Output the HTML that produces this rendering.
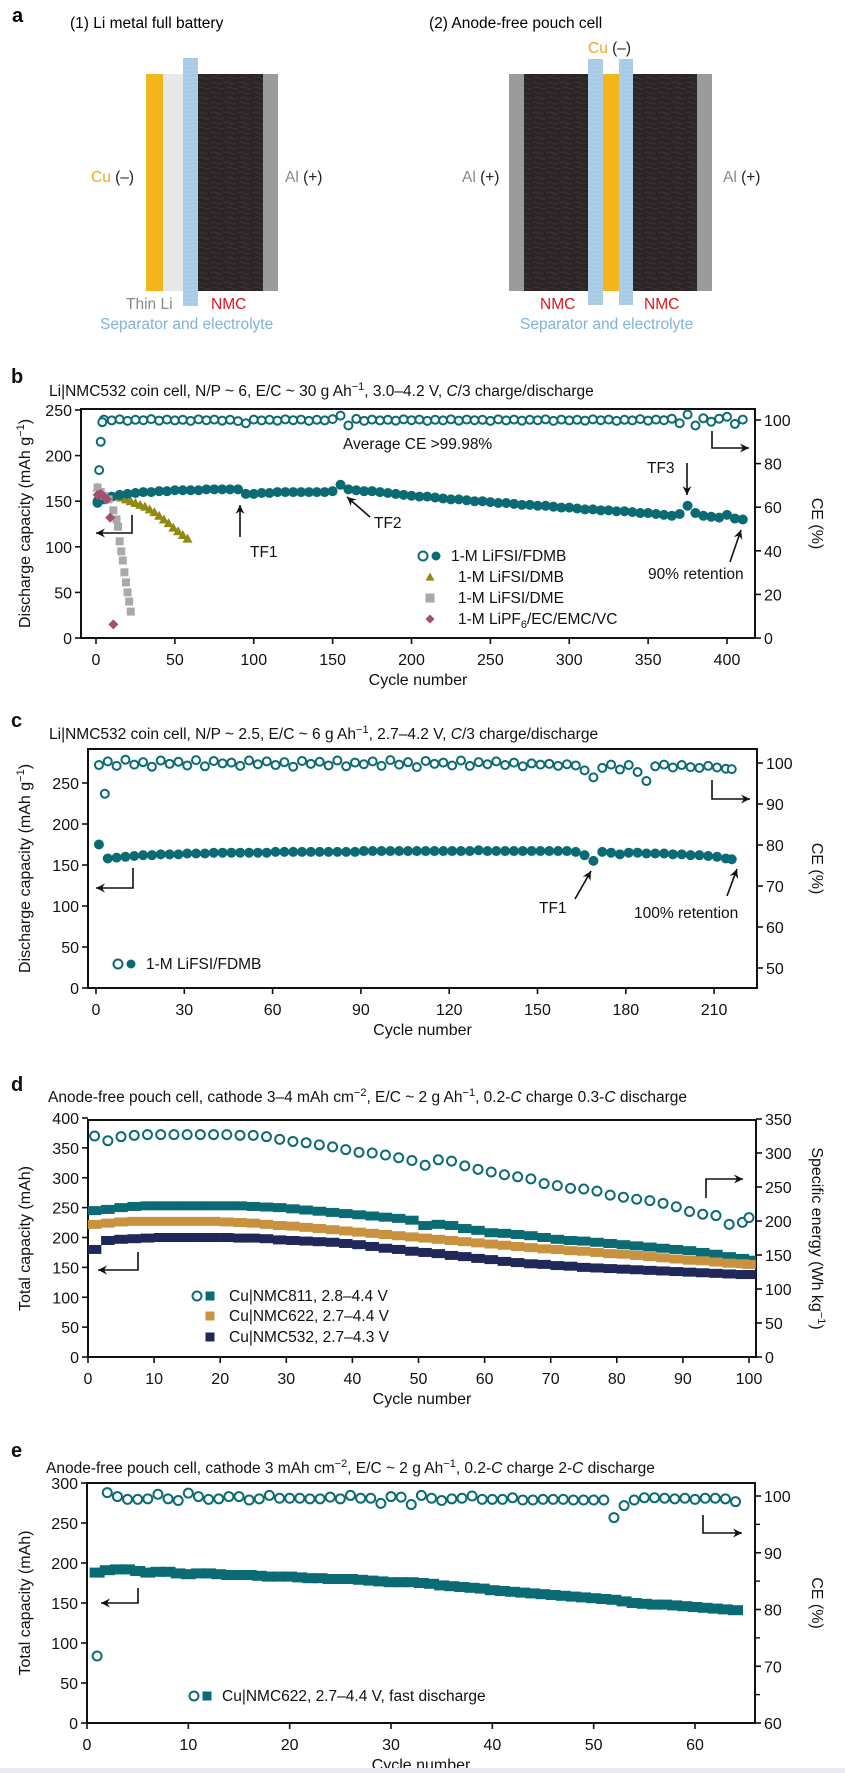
<!DOCTYPE html>
<html><head><meta charset="utf-8"><style>
html,body{margin:0;padding:0;background:#fff;}
svg{display:block;font-family:"Liberation Sans",Arial,sans-serif;}
</style></head><body>
<svg id="fig" width="845" height="1773" viewBox="0 0 845 1773" xmlns="http://www.w3.org/2000/svg">
<defs>
<pattern id="nmcTex" width="14" height="10" patternUnits="userSpaceOnUse">
<rect width="14" height="10" fill="#2b2526"/>
<path d="M0 3 Q3 1 6 3 T12 3 M2 8 Q5 6 8 8 T14 8" stroke="#3d3536" stroke-width="1" fill="none"/>
</pattern>
<pattern id="sepTex" width="4" height="4" patternUnits="userSpaceOnUse">
<rect width="4" height="4" fill="#a8cbe6"/>
<rect x="1" y="1" width="1" height="1" fill="#c6dcef"/>
</pattern>
</defs>

<!-- Panel a -->
<g>
<text x="12" y="22" font-size="20" font-weight="bold">a</text>
<text x="70" y="28" font-size="15.5">(1) Li metal full battery</text>
<text x="429" y="28" font-size="15.5">(2) Anode-free pouch cell</text>
<rect x="146" y="74" width="17" height="217" fill="#f2b61c"/>
<rect x="163" y="74" width="20" height="217" fill="#e8e8e8"/>
<rect x="183" y="58" width="15" height="248" fill="url(#sepTex)"/>
<rect x="198" y="74" width="65" height="217" fill="url(#nmcTex)"/>
<rect x="263" y="74" width="15" height="217" fill="#9b9b9b"/>
<text x="91" y="182" font-size="15.5" fill="#f0a81c">Cu <tspan fill="#222">(–)</tspan></text>
<text x="285" y="182" font-size="15.5" fill="#888">Al <tspan fill="#222">(+)</tspan></text>
<text x="126" y="309" font-size="15.5" fill="#8a8a8a">Thin Li</text>
<text x="211" y="309" font-size="15.5" fill="#e0141e">NMC</text>
<text x="100" y="329" font-size="15.5" fill="#7fb2dc">Separator and electrolyte</text>

<rect x="509" y="74" width="15" height="217" fill="#9b9b9b"/>
<rect x="524" y="74" width="64" height="217" fill="url(#nmcTex)"/>
<rect x="588" y="59" width="15" height="246" fill="url(#sepTex)"/>
<rect x="603" y="74" width="16" height="217" fill="#f2b61c"/>
<rect x="619" y="59" width="14" height="246" fill="url(#sepTex)"/>
<rect x="633" y="74" width="64" height="217" fill="url(#nmcTex)"/>
<rect x="697" y="74" width="15" height="217" fill="#9b9b9b"/>
<text x="588" y="53" font-size="15.5" fill="#f0a81c">Cu <tspan fill="#222">(–)</tspan></text>
<text x="462" y="182" font-size="15.5" fill="#888">Al <tspan fill="#222">(+)</tspan></text>
<text x="723" y="182" font-size="15.5" fill="#888">Al <tspan fill="#222">(+)</tspan></text>
<text x="540" y="309" font-size="15.5" fill="#e0141e">NMC</text>
<text x="644" y="309" font-size="15.5" fill="#e0141e">NMC</text>
<text x="520" y="329" font-size="15.5" fill="#7fb2dc">Separator and electrolyte</text>
</g>

<g id="charts"></g>
</svg>
<script>
// ---------- Panel b data ----------
const bCyc = [1,5,10,15,20,25,30,35,40,45,50,55,60,65,70,75,80,85,90,95,100,105,110,115,120,125,130,135,140,145,150,155,160,165,170,175,180,185,190,195,200,205,210,215,220,225,230,235,240,245,250,255,260,265,270,275,280,285,290,295,300,305,310,315,320,325,330,335,340,345,350,355,360,365,370,375,380,385,390,395,400,405,410];
const bFdmbCap = [150,152,155,157,158,159,160,160,161,161,162,162,162,162,163,163,163,163,163,158,158,159,159,160,160,160,160,160,160,160,161,168,163,162,161,161,160,159,158,157,156,155,155,154,153,152,152,151,150,150,149,148,148,147,146,146,145,145,144,143,143,142,141,141,140,140,139,139,138,137,137,136,135,134,136,145,137,134,133,132,135,131,130];
const bFdmbCe = [62,100.2,99.8,100.3,99.6,100.1,99.9,100.4,99.7,100.2,99.8,100.1,99.6,100.3,99.9,100.2,99.7,100.1,99.5,98.5,100.2,99.8,100.1,99.7,100.3,99.9,100.2,99.6,100.1,99.8,100.4,102,97.5,100.5,99.6,100.2,99.8,100.1,99.7,100.3,99.9,100.2,99.6,100.1,99.8,100.3,99.7,100.2,99.9,100.1,99.6,100.3,99.8,100.2,99.7,100.1,99.9,100.3,99.6,100.2,99.8,100.1,99.7,100.3,99.9,100.2,99.6,100.1,99.8,100.4,99.7,100.2,99.9,100.6,98.5,102.5,97.5,100.8,99.2,100.6,101.5,98.2,100.2];
const bEarlyCyc = [2,3,4];
const bEarlyCe = [77,90,99];
const bDmbCyc = [1,4,7,10,13,16,19,22,25,28,31,34,37,40,43,46,49,52,55,58];
const bDmbCap = [165,158,155,155,155,154,152,150,148,146,144,141,138,134,130,126,121,117,113,109];
const bDmeCyc = [1,3,5,8,11,13,14,15,16,17,18,19,20,21,22];
const bDmeCap = [165,160,156,152,140,130,122,106,95,85,72,61,50,40,29];
const bPf6Cyc = [1,3,5,7,9,11];
const bPf6Cap = [157,158,155,152,132,15];
const bXTicks = [0,50,100,150,200,250,300,350,400];
const bYTicks = [0,50,100,150,200,250];
const bY2Ticks = [0,20,40,60,80,100];

// ---------- Panel c data ----------
const cCyc = [1,4,7,10,13,16,19,22,25,28,31,34,37,40,43,46,49,52,55,58,61,64,67,70,73,76,79,82,85,88,91,94,97,100,103,106,109,112,115,118,121,124,127,130,133,136,139,142,145,148,151,154,157,160,163,166,169,172,175,178,181,184,187,190,193,196,199,202,205,208,211,214,216];
const cCap = [175,158,159,160,161,162,162,163,163,163,164,164,164,165,165,165,165,165,165,165,166,166,166,166,166,166,166,166,166,166,167,167,167,167,167,167,167,167,167,167,167,167,167,168,167,167,167,167,167,167,167,167,167,167,166,162,155,166,165,163,165,165,164,164,164,163,163,162,162,161,160,158,157];
const cCe = [99.5,100.4,99.3,100.8,99.6,100.2,99.1,100.6,99.8,100.3,99.4,100.7,99.2,100.5,99.9,100.1,99.3,100.6,99.7,100.4,99.5,100.2,99.1,100.5,99.8,100.3,99.4,100.6,99.2,100.1,99.7,100.4,99.3,100.7,99.6,100.2,99.0,100.5,99.8,100.1,99.4,100.6,99.3,100.2,99.7,100.4,99.5,100.1,99.2,99.9,99.6,99.8,99.3,99.7,99.4,98.2,96.5,98.8,99.6,98.4,99.5,97.8,95.6,99.2,99.6,98.9,99.5,99.0,98.8,99.3,98.9,98.6,98.5];
const cEarlyCyc = [3];
const cEarlyCe = [92.5];
const cXTicks = [0,30,60,90,120,150,180,210];
const cYTicks = [0,50,100,150,200,250];
const cY2Ticks = [50,60,70,80,90,100];

// ---------- Panel d data ----------
const dCyc = [1,3,5,7,9,11,13,15,17,19,21,23,25,27,29,31,33,35,37,39,41,43,45,47,49,51,53,55,57,59,61,63,65,67,69,71,73,75,77,79,81,83,85,87,89,91,93,95,97,99,100];
const d811Energy = [325,318,324,326,327,327,327,327,327,327,327,326,326,324,320,317,315,312,309,305,301,300,297,293,289,282,290,288,281,276,272,268,265,262,255,252,248,247,244,238,235,232,230,226,221,214,210,208,195,198,205];
const d811Cap = [245,247,250,252,253,253,253,253,253,253,253,253,252,251,250,248,246,244,242,240,238,236,234,232,229,220,222,220,215,212,208,207,205,203,200,197,195,194,192,190,188,186,184,182,180,178,175,172,168,165,162];
const d622Cap = [222,224,226,227,227,227,227,227,227,227,226,225,224,222,220,219,217,215,213,211,209,207,205,203,201,199,197,195,193,191,189,187,185,183,181,180,178,177,175,173,172,170,168,166,164,162,161,159,157,156,155];
const d532Cap = [180,195,197,198,199,200,200,200,200,200,200,199,199,198,196,195,194,193,192,190,188,185,182,180,177,175,173,170,168,165,163,160,158,156,155,153,152,150,149,148,147,146,145,144,143,142,141,140,139,138,138];
const dXTicks = [0,10,20,30,40,50,60,70,80,90,100];
const dYTicks = [0,50,100,150,200,250,300,350,400];
const dY2Ticks = [0,50,100,150,200,250,300,350];

// ---------- Panel e data ----------
const eCyc = [1,2,3,4,5,6,7,8,9,10,11,12,13,14,15,16,17,18,19,20,21,22,23,24,25,26,27,28,29,30,31,32,33,34,35,36,37,38,39,40,41,42,43,44,45,46,47,48,49,50,51,52,53,54,55,56,57,58,59,60,61,62,63,64];
const eCe = [71.8,100.6,99.9,99.4,99.4,99.5,100.3,99.5,99.2,100.5,99.9,99.4,99.5,99.9,99.9,99.3,99.5,100.1,99.6,99.6,99.6,99.5,99.5,99.8,99.5,100.1,99.6,99.6,98.7,99.9,99.8,98.5,100.1,99.6,99.2,99.5,99.6,100.0,99.4,99.4,99.4,99.7,99.3,99.3,99.4,99.4,99.4,99.3,99.3,99.3,99.3,96.2,98.3,99.3,99.7,99.7,99.6,99.5,99.6,99.4,99.6,99.6,99.5,99.0];
const eCap = [188,191,192,192,190,188,189,189,187,186,187,187,186,185,185,185,184,183,183,183,182,181,181,180,180,180,179,178,177,176,176,176,175,174,172,171,170,169,168,166,165,164,163,162,161,160,159,158,157,156,155,154,152,150,149,148,148,147,146,145,144,143,142,141];
const eXTicks = [0,10,20,30,40,50,60];
const eYTicks = [0,50,100,150,200,250,300];
const eY2Ticks = [60,70,80,90,100];
const eY2Minor = [65,75,85,95];

// ---------- drawing ----------
const NS = 'http://www.w3.org/2000/svg';
const root = document.getElementById('charts');
const TEAL = '#0b6b74';
function mk(tag, attrs, parent){
  const e = document.createElementNS(NS, tag);
  for (const k in attrs) e.setAttribute(k, attrs[k]);
  (parent||root).appendChild(e);
  return e;
}
function txt(s, x, y, attrs, parent){
  const t = mk('text', Object.assign({x:x, y:y, 'font-size':15.5, fill:'#111'}, attrs||{}), parent);
  t.textContent = s;
  return t;
}
function scale(d0,d1,r0,r1){ return v => r0 + (v-d0)*(r1-r0)/(d1-d0); }

function axes(p){
  const g = mk('g', {});
  
  
  const f = mk('rect', {x:p.L, y:p.T, width:p.R-p.L, height:p.B-p.T, fill:'none', stroke:'#111', 'stroke-width':2}, g);
  
  
  p.xt.forEach(v => {
    const x = p.x(v);
    mk('line', {x1:x, x2:x, y1:p.B, y2:p.B+6, stroke:'#111', 'stroke-width':1.6}, g);
    const t = txt(String(v), x, p.B+27, {'text-anchor':'middle', 'font-size':16}, g);
    
    
  });
  p.yt.forEach(v => {
    const y = p.y(v);
    mk('line', {x1:p.L-6, x2:p.L, y1:y, y2:y, stroke:'#111', 'stroke-width':1.6}, g);
    const t = txt(String(v), p.L-9, y+6, {'text-anchor':'end', 'font-size':16}, g);
    
    
  });
  p.y2t.forEach(v => {
    const y = p.y2(v);
    mk('line', {x1:p.R, x2:p.R+6, y1:y, y2:y, stroke:'#111', 'stroke-width':1.6}, g);
    const t = txt(String(v), p.R+9, y+6, {'font-size':16}, g);
    
    
  });
  (p.y2m||[]).forEach(v => {
    const y = p.y2(v);
    mk('line', {x1:p.R, x2:p.R+5, y1:y, y2:y, stroke:'#111', 'stroke-width':1.4}, g);
  });
  const xt = txt('Cycle number', (p.L+p.R)/2, p.B+47, {'text-anchor':'middle', 'font-size':16}, g);
  
  
  const cy = (p.T+p.B)/2;
  const yl = txt('', 0, 0, {'text-anchor':'middle', 'font-size':16, transform:'translate(30,'+cy+') rotate(-90)'}, g);
  yl.innerHTML = p.ylab;
  
  
  const yr = txt('', 0, 0, {'text-anchor':'middle', 'font-size':16, transform:'translate(812,'+cy+') rotate(90)'}, g);
  yr.innerHTML = p.y2lab;
  
  
  const lb = txt(p.letter, p.letterX, p.letterY, {'font-size':20, 'font-weight':'bold'}, g);
  
  
  const ti = txt('', p.titleX, p.titleY, {'font-size':15.5}, g);
  ti.innerHTML = p.title;
  
  
}

function marker(kind, x, y, color, s, g){
  if (kind === 'oc') return mk('circle', {cx:x, cy:y, r:s, fill:'#fff', stroke:color, 'stroke-width':2}, g);
  if (kind === 'fc') return mk('circle', {cx:x, cy:y, r:s, fill:color}, g);
  if (kind === 'sq') return mk('rect', {x:x-s, y:y-s, width:2*s, height:2*s, fill:color}, g);
  if (kind === 'wsq') return mk('rect', {x:x-s*1.5, y:y-s, width:3*s, height:2*s, fill:color}, g);
  if (kind === 'tri') return mk('polygon', {points:(x)+','+(y-s)+' '+(x-s)+','+(y+s*0.8)+' '+(x+s)+','+(y+s*0.8), fill:color}, g);
  if (kind === 'dia') return mk('polygon', {points:x+','+(y-s)+' '+(x+s)+','+y+' '+x+','+(y+s)+' '+(x-s)+','+y, fill:color}, g);
}
function series(name, xs, ys, sx, sy, kind, color, s){
  const g = mk('g', {});
  
  
  const n = Math.min(xs.length, ys.length);
  for (let i = 0; i < n; i++) {
    const m = marker(kind, sx(xs[i]), sy(ys[i]), color, s, g);
    
    
  }
}
function arrow(pts, headAt){
  const g = mk('g', {});
  
  
  mk('polyline', {points:pts.map(p=>p.join(',')).join(' '), fill:'none', stroke:'#111', 'stroke-width':1.6}, g);
  const a = pts[pts.length-1], b = pts[pts.length-2];
  const ang = Math.atan2(a[1]-b[1], a[0]-b[0]);
  const L = 9, W = 4.5;
  const p1 = [a[0]-L*Math.cos(ang)+W*Math.sin(ang), a[1]-L*Math.sin(ang)-W*Math.cos(ang)];
  const p2 = [a[0]-L*Math.cos(ang)-W*Math.sin(ang), a[1]-L*Math.sin(ang)+W*Math.cos(ang)];
  mk('polygon', {points:[a,p1,[a[0]-6*Math.cos(ang),a[1]-6*Math.sin(ang)],p2].map(p=>p.join(',')).join(' '), fill:'#111'}, g);
}
function note(s, x, y, name){
  const t = txt(s, x, y, {'font-size':15.5});
  
  
}
function legendRow(kinds, colors, label, x, y, name){
  const g = mk('g', {});
  
  
  let cx = x;
  kinds.forEach((k,i) => { marker(k, cx, y-5, colors[i], 4.5, g); cx += 13; });
  const t = txt('', x + kinds.length*13 + 2, y, {'font-size':15.5}, g);
  t.innerHTML = label;
}

// ---- Panel b ----
const pb = {name:'panel-b', L:81, R:755, T:409, B:638, x:scale(0,400,96,727), y:scale(0,250,638,410), y2:scale(0,100,638,420),
  xt:bXTicks, yt:bYTicks, y2t:bY2Ticks, ylab:'Discharge capacity (mAh g<tspan dy="-6" font-size="11">−1</tspan><tspan dy="6">)</tspan>', y2lab:'CE (%)',
  letter:'b', letterX:11, letterY:383, title:'Li|NMC532 coin cell, N/P ~ 6, E/C ~ 30 g Ah<tspan dy="-6" font-size="11">−1</tspan><tspan dy="6">, 3.0–4.2 V, </tspan><tspan font-style="italic">C</tspan>/3 charge/discharge', titleX:49, titleY:396};
axes(pb);
series('b-fdmb-ce', bCyc, bFdmbCe, pb.x, pb.y2, 'oc', TEAL, 4);
series('b-fdmb-ce-early', bEarlyCyc, bEarlyCe, pb.x, pb.y2, 'oc', TEAL, 4);
series('b-dmb-capacity', bDmbCyc, bDmbCap, pb.x, pb.y, 'tri', '#8f8a12', 5);
series('b-fdmb-capacity', bCyc, bFdmbCap, pb.x, pb.y, 'fc', TEAL, 5);
series('b-dme-capacity', bDmeCyc, bDmeCap, pb.x, pb.y, 'sq', '#a9a9a9', 4);
series('b-lipf6-capacity', bPf6Cyc, bPf6Cap, pb.x, pb.y, 'dia', '#a34f6d', 5);
note('Average CE >99.98%', 343, 449, 'b-average-ce-note');
note('TF1', 250, 557, 'b-tf1-label'); arrow([[240,537],[240,505]]);
note('TF2', 374, 528, 'b-tf2-label'); arrow([[370,517],[347,497]]);
note('TF3', 647, 473, 'b-tf3-label'); arrow([[687,463],[687,495]]);
note('90% retention', 648, 579, 'b-retention-label'); arrow([[730,562],[741,530]]);
arrow([[712,431],[712,448],[749,448]]);
arrow([[132,515],[132,533],[96,533]]);
legendRow(['oc','fc'], [TEAL,TEAL], '1-M LiFSI/FDMB', 423, 561, 'b-legend-fdmb');
legendRow(['tri'], ['#8f8a12'], '<tspan dx="13">1-M LiFSI/DMB</tspan>', 430, 582, 'b-legend-dmb');
legendRow(['sq'], ['#a9a9a9'], '<tspan dx="13">1-M LiFSI/DME</tspan>', 430, 603, 'b-legend-dme');
legendRow(['dia'], ['#a34f6d'], '<tspan dx="13">1-M LiPF</tspan><tspan dy="4" font-size="11">6</tspan><tspan dy="-4">/EC/EMC/VC</tspan>', 430, 624, 'b-legend-lipf6');

// ---- Panel c ----
const pc = {name:'panel-c', L:88, R:757, T:749, B:988, x:scale(0,30,96,184.3), y:scale(0,250,988,783), y2:scale(50,100,968,763),
  xt:cXTicks, yt:cYTicks, y2t:cY2Ticks, ylab:'Discharge capacity (mAh g<tspan dy="-6" font-size="11">−1</tspan><tspan dy="6">)</tspan>', y2lab:'CE (%)',
  letter:'c', letterX:11, letterY:727, title:'Li|NMC532 coin cell, N/P ~ 2.5, E/C ~ 6 g Ah<tspan dy="-6" font-size="11">−1</tspan><tspan dy="6">, 2.7–4.2 V, </tspan><tspan font-style="italic">C</tspan>/3 charge/discharge', titleX:49, titleY:739};
axes(pc);
series('c-fdmb-ce', cCyc, cCe, pc.x, pc.y2, 'oc', TEAL, 4);
series('c-fdmb-ce-early', cEarlyCyc, cEarlyCe, pc.x, pc.y2, 'oc', TEAL, 4);
series('c-fdmb-capacity', cCyc, cCap, pc.x, pc.y, 'fc', TEAL, 5);
note('TF1', 539, 913, 'c-tf1-label'); arrow([[575,899],[591,871]]);
note('100% retention', 634, 918, 'c-retention-label'); arrow([[727,896],[737,869]]);
arrow([[712,780],[712,799],[750,799]]);
arrow([[133,868],[133,888],[96,888]]);
legendRow(['oc','fc'], [TEAL,TEAL], '1-M LiFSI/FDMB', 118, 969, 'c-legend-fdmb');

// ---- Panel d ----
const pd = {name:'panel-d', L:88, R:756, T:1120, B:1357, x:scale(0,100,88,749), y:scale(0,400,1357,1118), y2:scale(0,350,1357,1119),
  xt:dXTicks, yt:dYTicks, y2t:dY2Ticks, ylab:'Total capacity (mAh)', y2lab:'Specific energy (Wh kg<tspan dy="-6" font-size="11">−1</tspan><tspan dy="6">)</tspan>',
  letter:'d', letterX:11, letterY:1091, title:'Anode-free pouch cell, cathode 3–4 mAh cm<tspan dy="-6" font-size="11">−2</tspan><tspan dy="6">, E/C ~ 2 g Ah</tspan><tspan dy="-6" font-size="11">−1</tspan><tspan dy="6">, 0.2-</tspan><tspan font-style="italic">C</tspan> charge 0.3-<tspan font-style="italic">C</tspan> discharge', titleX:48, titleY:1102};
axes(pd);
series('d-nmc811-energy', dCyc, d811Energy, pd.x, pd.y2, 'oc', TEAL, 4.5);
series('d-nmc811-capacity', dCyc, d811Cap, pd.x, pd.y, 'wsq', TEAL, 4.5);
series('d-nmc622-capacity', dCyc, d622Cap, pd.x, pd.y, 'wsq', '#c8923f', 4.5);
series('d-nmc532-capacity', dCyc, d532Cap, pd.x, pd.y, 'wsq', '#1f2858', 4.5);
arrow([[706,1198],[706,1179],[743,1179]]);
arrow([[138,1252],[138,1270],[98,1270]]);
legendRow(['oc','sq'], [TEAL,TEAL], '<tspan dx="4">Cu|NMC811, 2.8–4.4 V</tspan>', 197, 1301, 'd-legend-nmc811');
legendRow(['sq'], ['#c8923f'], '<tspan dx="4">Cu|NMC622, 2.7–4.4 V</tspan>', 210, 1321, 'd-legend-nmc622');
legendRow(['sq'], ['#1f2858'], '<tspan dx="4">Cu|NMC532, 2.7–4.3 V</tspan>', 210, 1342, 'd-legend-nmc532');

// ---- Panel e ----
const pe = {name:'panel-e', L:87, R:755, T:1483, B:1723, x:scale(0,60,87,695), y:scale(0,300,1723,1483), y2:scale(60,100,1723,1496),
  xt:eXTicks, yt:eYTicks, y2t:eY2Ticks, y2m:eY2Minor, ylab:'Total capacity (mAh)', y2lab:'CE (%)',
  letter:'e', letterX:11, letterY:1457, title:'Anode-free pouch cell, cathode 3 mAh cm<tspan dy="-6" font-size="11">−2</tspan><tspan dy="6">, E/C ~ 2 g Ah</tspan><tspan dy="-6" font-size="11">−1</tspan><tspan dy="6">, 0.2-</tspan><tspan font-style="italic">C</tspan> charge 2-<tspan font-style="italic">C</tspan> discharge', titleX:46, titleY:1473};
axes(pe);
series('e-nmc622-ce', eCyc, eCe, pe.x, pe.y2, 'oc', TEAL, 4.5);
series('e-nmc622-capacity', eCyc, eCap, pe.x, pe.y, 'wsq', TEAL, 5);
arrow([[703,1515],[703,1533],[742,1533]]);
arrow([[138,1588],[138,1603],[101,1603]]);
legendRow(['oc','sq'], [TEAL,TEAL], 'Cu|NMC622, 2.7–4.4 V, fast discharge', 194, 1701, 'e-legend-nmc622');

const strip = mk('rect', {x:0, y:1768, width:845, height:5, fill:'#e9e9f0'});


</script>
</body></html>
